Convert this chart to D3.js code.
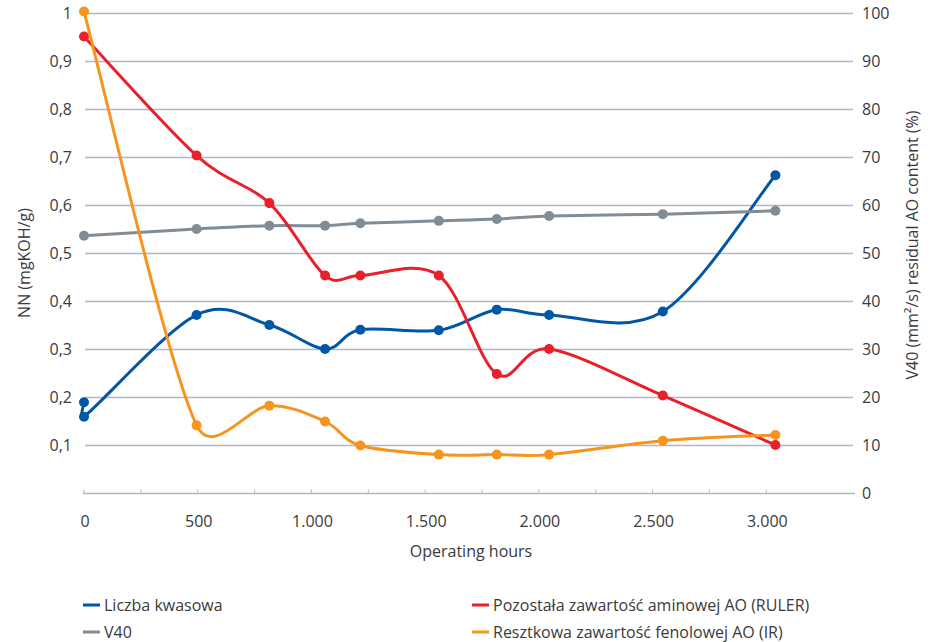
<!DOCTYPE html>
<html>
<head>
<meta charset="utf-8">
<script src="https://cdn.jsdelivr.net/npm/d3@7"></script>
<style>
  html, body { margin: 0; padding: 0; background: #fff; }
  svg { display: block; font-family: "Open Sans", "Noto Sans", sans-serif; }
</style>
</head>
<body>
<svg id="chart" width="936" height="642"></svg>
<script>
// ---- data ----
const hoursAcid = [0, 0, 495, 815, 1060, 1215, 1560, 1815, 2045, 2545, 3040];
const acidNumber = [0.19, 0.16, 0.372, 0.351, 0.301, 0.341, 0.340, 0.383, 0.372, 0.379, 0.663];

const hours = [0, 495, 815, 1060, 1215, 1560, 1815, 2045, 2545, 3040];
const v40 = [53.7, 55.1, 55.8, 55.8, 56.3, 56.8, 57.2, 57.8, 58.2, 58.9];
const aminicAO = [95.2, 70.4, 60.5, 45.4, 45.4, 45.4, 24.9, 30.1, 20.4, 10.1];
const phenolicAO = [100.4, 14.2, 18.3, 15.0, 10.0, 8.1, 8.1, 8.1, 11.0, 12.2];

const xTicks = [0, 250, 500, 750, 1000, 1250, 1500, 1750, 2000, 2250, 2500, 2750, 3000];
const xLabels = [0, 500, 1000, 1500, 2000, 2500, 3000];
const leftTicks = [0.1, 0.2, 0.3, 0.4, 0.5, 0.6, 0.7, 0.8, 0.9, 1];
const rightTicks = [0, 10, 20, 30, 40, 50, 60, 70, 80, 90, 100];

const seriesNames = ["Liczba kwasowa", "V40", "Pozostała zawartość aminowej AO (RULER)", "Resztkowa zawartość fenolowej AO (IR)"];
const colors = ["#0057A6", "#808D97", "#E8202A", "#F7941D"];

// ---- layout ----
const svg = d3.select("#chart");
const x = d3.scaleLinear().domain([0, 3390]).range([84, 855]);
const yL = d3.scaleLinear().domain([0, 1]).range([493.5, 13.5]);
const yR = d3.scaleLinear().domain([0, 100]).range([493.5, 13.5]);
const gridColor = "#AEB8C1";
const textColor = "#3a3a3a";

// gridlines
svg.append("g").selectAll("line").data(leftTicks).join("line")
  .attr("x1", 85).attr("x2", 853)
  .attr("y1", d => yL(d)).attr("y2", d => yL(d))
  .attr("stroke", gridColor).attr("stroke-width", 1.5);

// x axis line and ticks
svg.append("line").attr("x1", 83).attr("x2", 855)
  .attr("y1", yL(0)).attr("y2", yL(0))
  .attr("stroke", gridColor).attr("stroke-width", 1.5);
svg.append("g").selectAll("line").data(xTicks).join("line")
  .attr("x1", d => x(d)).attr("x2", d => x(d))
  .attr("y1", yL(0) - 4).attr("y2", yL(0))
  .attr("stroke", gridColor).attr("stroke-width", 1);

// x labels
const fmt = d => d3.format(",")(d).replace(/,/g, ".");
svg.append("g").selectAll("text").data(xLabels).join("text")
  .attr("x", d => x(d) + 1).attr("y", 527)
  .attr("text-anchor", "middle").attr("font-size", 16).attr("fill", textColor)
  .text(fmt);

// left labels
svg.append("g").selectAll("text").data(leftTicks).join("text")
  .attr("x", 72).attr("y", d => yL(d)).attr("dy", "0.35em")
  .attr("text-anchor", "end").attr("font-size", 16).attr("fill", textColor)
  .text(d => String(d).replace(".", ","));

// right labels
svg.append("g").selectAll("text").data(rightTicks).join("text")
  .attr("x", 862).attr("y", d => yR(d)).attr("dy", "0.35em")
  .attr("text-anchor", "start").attr("font-size", 16).attr("fill", textColor)
  .text(d => d);

// axis titles
svg.append("text").attr("transform", "translate(30,263) rotate(-90)")
  .attr("text-anchor", "middle").attr("font-size", 16).attr("fill", textColor)
  .text("NN (mgKOH/g)");
svg.append("text").attr("transform", "translate(918,245) rotate(-90)")
  .attr("text-anchor", "middle").attr("font-size", 16).attr("fill", textColor)
  .text("V40 (mm²/s) residual AO content (%)");
svg.append("text").attr("x", 471).attr("y", 557)
  .attr("text-anchor", "middle").attr("font-size", 16).attr("fill", textColor)
  .text("Operating hours");

// ---- spreadsheet-style smoothed line (Bezier, 1/6 tangents, arm clamped to half segment) ----
function smoothPath(pts) {
  const p = d3.path();
  const n = pts.length;
  const dist = (a, b) => Math.hypot(b[0] - a[0], b[1] - a[1]);
  p.moveTo(pts[0][0], pts[0][1]);
  for (let i = 0; i < n - 1; i++) {
    const p0 = pts[Math.max(i - 1, 0)], p1 = pts[i], p2 = pts[i + 1], p3 = pts[Math.min(i + 2, n - 1)];
    const seg = dist(p1, p2);
    let t1 = [(p2[0] - p0[0]) / 6, (p2[1] - p0[1]) / 6];
    let t2 = [(p3[0] - p1[0]) / 6, (p3[1] - p1[1]) / 6];
    const lim = seg / 2;
    const l1 = Math.hypot(t1[0], t1[1]), l2 = Math.hypot(t2[0], t2[1]);
    if (l1 > lim && l1 > 0) t1 = [t1[0] * lim / l1, t1[1] * lim / l1];
    if (l2 > lim && l2 > 0) t2 = [t2[0] * lim / l2, t2[1] * lim / l2];
    p.bezierCurveTo(p1[0] + t1[0], p1[1] + t1[1], p2[0] - t2[0], p2[1] - t2[1], p2[0], p2[1]);
  }
  return p.toString();
}

// ---- series ----
const series = [
  { xs: hoursAcid, ys: acidNumber, y: yL, color: colors[0] },
  { xs: hours, ys: v40, y: yR, color: colors[1] },
  { xs: hours, ys: aminicAO, y: yR, color: colors[2] },
  { xs: hours, ys: phenolicAO, y: yR, color: colors[3] }
];

series.forEach(s => {
  const pts = s.xs.map((h, i) => [x(h), s.y(s.ys[i])]);
  svg.append("path").attr("d", smoothPath(pts))
    .attr("fill", "none").attr("stroke", s.color).attr("stroke-width", 3)
    .attr("stroke-linejoin", "round");
  svg.append("g").selectAll("circle").data(pts).join("circle")
    .attr("cx", d => d[0]).attr("cy", d => d[1]).attr("r", 5)
    .attr("fill", s.color);
});

// ---- legend ----
const legendPos = [[83, 605], [83, 632], [472, 605], [472, 632]];
seriesNames.forEach((name, i) => {
  const [lx, ly] = legendPos[i];
  svg.append("line").attr("x1", lx).attr("x2", lx + 17)
    .attr("y1", ly).attr("y2", ly)
    .attr("stroke", colors[i]).attr("stroke-width", 3);
  svg.append("text").attr("x", lx + 21).attr("y", ly).attr("dy", "0.35em")
    .attr("font-size", 16).attr("fill", textColor).text(name);
});
</script>
</body>
</html>
